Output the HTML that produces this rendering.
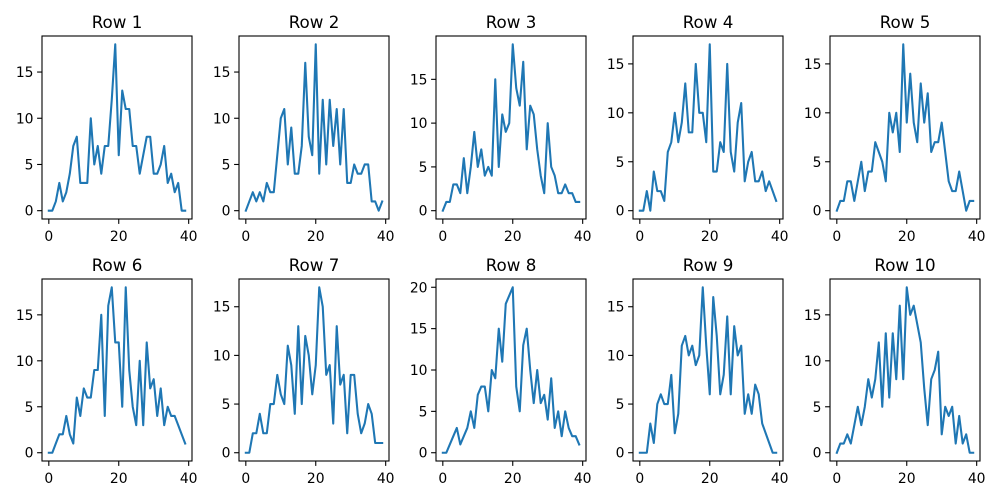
<!DOCTYPE html>
<html><head><meta charset="utf-8"><style>
body{margin:0;background:#fff;}
svg{display:block;font-family:"DejaVu Sans","Liberation Sans",sans-serif;}
</style></head><body>
<svg id="fig" width="1000" height="500" viewBox="0 0 1000 500"></svg>
<script>
const xValues = Array.from({length:40},(_, i)=>i);
const titles = ["Row 1","Row 2","Row 3","Row 4","Row 5","Row 6","Row 7","Row 8","Row 9","Row 10"];
const row1 = [0,0,1,3,1,2,4,7,8,3,3,3,10,5,7,4,7,7,12,18,6,13,11,11,7,7,4,6,8,8,4,4,5,7,3,4,2,3,0,0];
const row2 = [0,1,2,1,2,1,3,2,2,6,10,11,5,9,4,4,7,16,8,6,18,4,12,5,12,7,11,5,11,3,3,5,4,4,5,5,1,1,0,1];
const row3 = [0,1,1,3,3,2,6,2,5,9,5,7,4,5,4,15,5,11,9,10,19,14,12,17,7,12,11,7,4,2,10,5,4,2,2,3,2,2,1,1];
const row4 = [0,0,2,0,4,2,2,1,6,7,10,7,9,13,8,8,15,10,10,7,17,4,4,7,6,15,6,4,9,11,3,5,6,3,3,4,2,3,2,1];
const row5 = [0,1,1,3,3,1,3,5,2,4,4,7,6,5,3,10,8,10,6,17,9,14,9,7,13,9,12,6,7,7,9,6,3,2,2,4,2,0,1,1];
const row6 = [0,0,1,2,2,4,2,1,6,4,7,6,6,9,9,15,4,16,18,12,12,5,18,9,5,3,10,3,12,7,8,4,7,3,5,4,4,3,2,1];
const row7 = [0,0,2,2,4,2,2,5,5,8,6,5,11,9,4,13,5,12,10,6,9,17,15,8,9,3,13,7,8,2,8,8,4,2,3,5,4,1,1,1];
const row8 = [0,0,1,2,3,1,2,3,5,3,7,8,8,5,10,9,15,11,18,19,20,8,5,13,15,10,6,10,6,7,4,9,3,5,2,5,3,2,2,1];
const row9 = [0,0,0,3,1,5,6,5,5,8,2,4,11,12,10,11,9,10,17,11,6,16,12,6,8,14,6,13,10,11,4,6,4,7,6,3,2,1,0,0];
const row10 = [0,1,1,2,1,3,5,3,5,8,6,8,12,5,13,6,13,8,16,8,18,15,16,14,12,7,3,8,9,11,2,5,4,5,1,4,1,2,0,0];
const series = [row1,row2,row3,row4,row5,row6,row7,row8,row9,row10];
const xTicks = [0,20,40];
const yTicksBase = [0,5,10,15,20];

const NS="http://www.w3.org/2000/svg";
const svg=document.getElementById('fig');
function mk(tag,attrs,parent){const e=document.createElementNS(NS,tag);for(const k in attrs)e.setAttribute(k,attrs[k]);(parent||svg).appendChild(e);return e;}

series.forEach((data,idx)=>{
  const col=idx%5,row=Math.floor(idx/5);
  const L=42+col*197,R=L+150;
  const T=row===0?36:279,B=row===0?219:461;
  const g=mk('g',{});
  
  
  const n=data.length;
  const xmin=0-(n-1)*0.05,xmax=(n-1)*1.05;
  const dmax=Math.max(...data),dmin=Math.min(...data);
  const span=dmax-dmin||1;
  const ymin=dmin-span*0.05,ymax=dmax+span*0.05;
  const sx=v=>L+(v-xmin)/(xmax-xmin)*(R-L);
  const sy=v=>B-(v-ymin)/(ymax-ymin)*(B-T);
  const pts=data.map((v,i)=>sx(xValues[i]).toFixed(2)+','+sy(v).toFixed(2)).join(' ');
  const pl=mk('polyline',{points:pts,fill:'none',stroke:'#1f77b4','stroke-width':2.08,'stroke-linejoin':'round','stroke-linecap':'square'},g);
  
  
  const fr=mk('rect',{x:L,y:T,width:R-L,height:B-T,fill:'none',stroke:'#000','stroke-width':1.1},g);
  
  
  xTicks.forEach(t=>{
    const x=sx(t);
    mk('line',{x1:x,x2:x,y1:B,y2:B+4.9,stroke:'#000','stroke-width':1.1},g);
    const tx=mk('text',{x:x,y:B+22,'font-size':13.9,'text-anchor':'middle',fill:'#000'},g);
    tx.textContent=t;
    
    
  });
  yTicksBase.filter(t=>t>=ymin&&t<=ymax).forEach(t=>{
    const y=sy(t);
    mk('line',{x1:L-4.9,x2:L,y1:y,y2:y,stroke:'#000','stroke-width':1.1},g);
    const ty=mk('text',{x:L-8.5,y:y+5,'font-size':13.9,'text-anchor':'end',fill:'#000'},g);
    ty.textContent=t;
    
    
  });
  const ti=mk('text',{x:(L+R)/2,y:T-8,'font-size':16.7,'text-anchor':'middle',fill:'#000'},g);
  ti.textContent=titles[idx];
  
  
});
</script>
</body></html>
